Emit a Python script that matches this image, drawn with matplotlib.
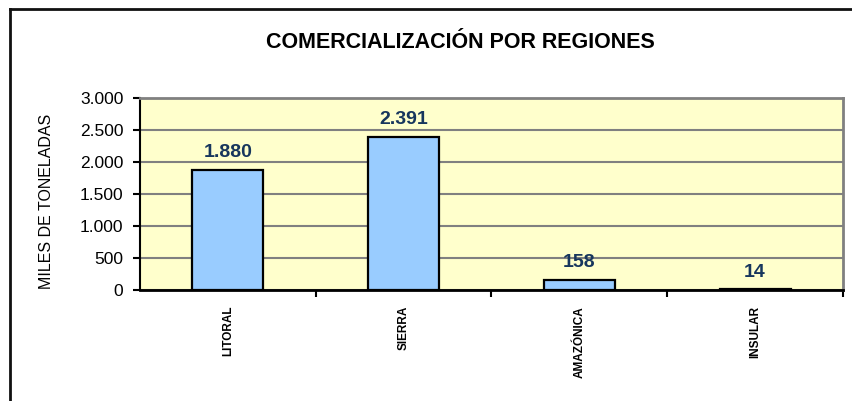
import matplotlib
matplotlib.use("Agg")
import matplotlib.pyplot as plt
from matplotlib.lines import Line2D
from matplotlib.ticker import FuncFormatter, FixedLocator
import matplotlib.transforms as mtransforms

categories = ["LITORAL", "SIERRA", "AMAZÓNICA", "INSULAR"]
values = [1880, 2391, 158, 14]
yticks = [0, 500, 1000, 1500, 2000, 2500, 3000]
title = "COMERCIALIZACIÓN POR REGIONES"
ylabel = "MILES DE TONELADAS"

plt.rcParams['font.family'] = ['Liberation Sans', 'DejaVu Sans']

W, H = 853, 401
fig = plt.figure(figsize=(W / 100, H / 100), dpi=100)
fig.patch.set_facecolor('white')

# outer frame (top and left lines)
fig.add_artist(Line2D([10 / W, 1.0], [1 - 8.5 / H, 1 - 8.5 / H], color='#111111', lw=2.0,
                      transform=fig.transFigure))
fig.add_artist(Line2D([10.5 / W, 10.5 / W], [0, 1 - 8.5 / H], color='#111111', lw=2.0,
                      transform=fig.transFigure))

ax = fig.add_axes([140 / W, 1 - 290 / H, (843 - 140) / W, (290 - 98) / H])
ax.set_facecolor('#FFFFCC')

x = list(range(len(categories)))
ax.bar(x, values, width=0.405, color='#99CCFF', edgecolor='black', linewidth=1.6, zorder=3)

ax.set_xlim(-0.5, len(categories) - 0.5)
ax.set_ylim(0, 3000)

ax.yaxis.set_major_locator(FixedLocator(yticks))
ax.yaxis.set_major_formatter(FuncFormatter(lambda v, p: f"{int(v):,}".replace(",", ".")))
ax.tick_params(axis='y', labelsize=12.5, length=5, width=1.5, direction='out', pad=7, color='black')
ax.grid(axis='y', color='#808080', linewidth=1.5, zorder=1)
ax.set_axisbelow(True)

# x: ticks at category boundaries, labels at centers
ax.set_xticks([0.5, 1.5, 2.5, 3.5])
ax.set_xticklabels([])
ax.tick_params(axis='x', length=5, width=1.5, direction='out', color='black')
lab_tr = ax.get_xaxis_transform() + mtransforms.ScaledTranslation(0, -16 / 100, fig.dpi_scale_trans)
for i, c in enumerate(categories):
    ax.text(i, 0.0, c, transform=lab_tr, rotation=90,
            ha='center', va='top', fontsize=8.5, fontweight='bold', color='black')

for sp in ['top', 'right']:
    ax.spines[sp].set_color('#808080')
    ax.spines[sp].set_linewidth(2.0)
ax.spines['left'].set_color('black')
ax.spines['left'].set_linewidth(1.5)
ax.spines['bottom'].set_color('black')
ax.spines['bottom'].set_linewidth(2.0)

for i, v in enumerate(values):
    ax.annotate(f"{v:,}".replace(",", "."), xy=(i, v), xytext=(0, 17), textcoords='offset pixels',
                ha='center', va='center', fontsize=14, fontweight='bold', color='#17365D')

fig.text(47 / W, 1 - 201 / H, ylabel, rotation=90, ha='center', va='center', fontsize=11.5)

fig.text(460 / W, 1 - 42 / H, title, ha='center', va='center', fontsize=15.5, fontweight='bold')

fig.savefig("out.png", dpi=100)
